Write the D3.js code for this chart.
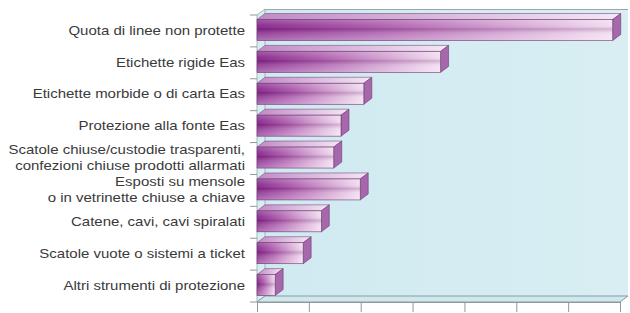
<!DOCTYPE html>
<html><head><meta charset="utf-8">
<script src="https://cdn.jsdelivr.net/npm/d3@7"></script>
<style>html,body{margin:0;padding:0;background:#fff;}svg{display:block;}</style>
</head><body>
<svg id="chart" width="630" height="313"></svg>
<script>
const categories = [
  "Quota di linee non protette",
  "Etichette rigide Eas",
  "Etichette morbide o di carta Eas",
  "Protezione alla fonte Eas",
  "Scatole chiuse/custodie trasparenti,\nconfezioni chiuse prodotti allarmati",
  "Esposti su mensole\no in vetrinette chiuse a chiave",
  "Catene, cavi, cavi spiralati",
  "Scatole vuote o sistemi a ticket",
  "Altri strumenti di protezione"
];
const values = [68.6, 35.4, 20.6, 16.2, 14.8, 19.9, 12.4, 8.9, 3.5];
const xTicks = [0, 10, 20, 30, 40, 50, 60, 70];

const svg = d3.select("#chart");
const DX = 8, DY = -6;           // 3D depth offset
const x0 = 257, x1 = 620;        // front x range
const yTop = 15, yBot = 302;     // front y range

const x = d3.scaleLinear().domain([0, 70]).range([x0, x1]);
const y = d3.scaleBand().domain(categories).range([yTop, yBot]).padding(0);

const defs = svg.append("defs");
const gH = defs.append("linearGradient").attr("id", "gH").attr("x1", 0).attr("x2", 1).attr("y1", 0).attr("y2", 0);
gH.append("stop").attr("offset", "0%").attr("stop-color", "#86248a");
gH.append("stop").attr("offset", "35%").attr("stop-color", "#ad5cad");
gH.append("stop").attr("offset", "100%").attr("stop-color", "#f2dcf0");
const gV = defs.append("linearGradient").attr("id", "gV").attr("x1", 0).attr("x2", 0).attr("y1", 0).attr("y2", 1);
gV.append("stop").attr("offset", "0%").attr("stop-color", "#fff").attr("stop-opacity", 0.25);
gV.append("stop").attr("offset", "30%").attr("stop-color", "#fff").attr("stop-opacity", 0.05);
gV.append("stop").attr("offset", "45%").attr("stop-color", "#400040").attr("stop-opacity", 0.18);
gV.append("stop").attr("offset", "65%").attr("stop-color", "#fff").attr("stop-opacity", 0.15);
gV.append("stop").attr("offset", "100%").attr("stop-color", "#fff").attr("stop-opacity", 0.35);
const gT = defs.append("linearGradient").attr("id", "gT").attr("x1", 0).attr("x2", 1).attr("y1", 0).attr("y2", 0);
gT.append("stop").attr("offset", "0%").attr("stop-color", "#c08ac4");
gT.append("stop").attr("offset", "100%").attr("stop-color", "#f4e8f5");
const gW = defs.append("linearGradient").attr("id", "gW").attr("x1", 0).attr("x2", 1).attr("y1", 0).attr("y2", 0);
gW.append("stop").attr("offset", "0%").attr("stop-color", "#d0eaf1");
gW.append("stop").attr("offset", "100%").attr("stop-color", "#d8eef3");

// back wall
svg.append("rect").attr("x", x0 + DX).attr("y", yTop + DY).attr("width", 628 - (x0 + DX)).attr("height", (yBot + DY) - (yTop + DY))
  .attr("fill", "url(#gW)");
svg.append("line").attr("x1", x0 + DX).attr("x2", 628).attr("y1", yTop + DY + 0.5).attr("y2", yTop + DY + 0.5)
  .attr("stroke", "#9aa6aa").attr("stroke-width", 1);
// side wall
svg.append("polygon").attr("points", [[x0, yTop], [x0 + DX, yTop + DY], [x0 + DX, yBot + DY], [x0, yBot]].join(" "))
  .attr("fill", "#d6edf2").attr("stroke", "#9aa6aa").attr("stroke-width", 0.8);
// floor
svg.append("polygon").attr("points", [[x0, yBot], [x0 + DX, yBot + DY], [x1 + DX, yBot + DY], [x1, yBot]].join(" "))
  .attr("fill", "#cfe8ee").attr("stroke", "#8d9a9e").attr("stroke-width", 1);

// x axis (front bottom)
const xAxis = svg.append("g").attr("transform", `translate(0,${yBot})`)
  .call(d3.axisBottom(x).tickValues(xTicks).tickSize(10).tickSizeOuter(0).tickFormat(() => ""));
xAxis.selectAll("path,line").attr("stroke", "#8d9a9e");

// y axis ticks at band boundaries
const bounds = categories.map(c => y(c)).concat([yBot]);
svg.append("g").selectAll("line").data(bounds).join("line")
  .attr("x1", x0 - 7).attr("x2", x0).attr("y1", d => d).attr("y2", d => d)
  .attr("stroke", "#8d9a9e").attr("stroke-width", 1);

// bars
const faceOff = 4.5, faceH = 21;
const bars = svg.append("g").selectAll("g").data(categories).join("g");
bars.each(function (c, i) {
  const g = d3.select(this);
  const by = y(c) + faceOff;
  const bx0 = x(0), bx1 = x(values[i]);
  g.append("polygon").attr("points", [[bx0, by], [bx0 + DX, by + DY], [bx1 + DX, by + DY], [bx1, by]].join(" "))
    .attr("fill", "url(#gT)").attr("stroke", "#7d4c82").attr("stroke-width", 0.6);
  g.append("polygon").attr("points", [[bx1, by], [bx1 + DX, by + DY], [bx1 + DX, by + faceH + DY], [bx1, by + faceH]].join(" "))
    .attr("fill", "#a767ab").attr("stroke", "#6e3a74").attr("stroke-width", 0.6);
  g.append("rect").attr("x", bx0).attr("y", by).attr("width", bx1 - bx0).attr("height", faceH)
    .attr("fill", "url(#gH)");
  g.append("rect").attr("x", bx0).attr("y", by).attr("width", bx1 - bx0).attr("height", faceH)
    .attr("fill", "url(#gV)").attr("stroke", "#6e3a74").attr("stroke-width", 0.6);
});

// labels
const labels = svg.append("g").attr("font-family", "Liberation Sans, Arial, sans-serif").attr("font-size", 15)
  .attr("fill", "#3a3a3a").attr("text-anchor", "end");
const sy = 0.88;
categories.forEach(c => {
  const lines = c.split("\n");
  const cy = y(c) + y.bandwidth() / 2 - 1;
  const t = labels.append("text").attr("transform", `translate(245,${cy}) scale(1,${sy})`);
  lines.forEach((ln, k) => {
    const off = lines.length === 1 ? 0 : (k === 0 ? -8 : 8);
    t.append("tspan").attr("x", 0).attr("y", off / sy).attr("dominant-baseline", "central").text(ln);
  });
});
</script>
</body></html>
